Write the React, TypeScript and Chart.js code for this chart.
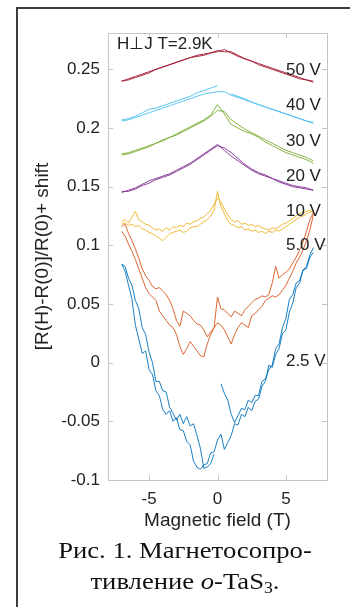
import { useEffect, useRef } from "react";
import { Chart, registerables } from "chart.js";

Chart.register(...registerables);

// Field grids (T)
const fieldFine = [-7, -6.75, -6.5, -6.25, -6, -5.75, -5.5, -5.25, -5, -4.75, -4.5, -4.25, -4, -3.75, -3.5, -3.25, -3, -2.75, -2.5, -2.25, -2, -1.75, -1.5, -1.25, -1, -0.75, -0.5, -0.25, 0, 0.25, 0.5, 0.75, 1, 1.25, 1.5, 1.75, 2, 2.25, 2.5, 2.75, 3, 3.25, 3.5, 3.75, 4, 4.25, 4.5, 4.75, 5, 5.25, 5.5, 5.75, 6, 6.25, 6.5, 6.75, 7];
const fieldCoarse = [-7, -6.5, -6, -5.5, -5, -4.5, -4, -3.5, -3, -2.5, -2, -1.5, -1, -0.5, 0, 0.5, 1, 1.5, 2, 2.5, 3, 3.5, 4, 4.5, 5, 5.5, 6, 6.5, 7];

// 2.5 V, two sweeps
const v25SweepA = [0.084, 0.078, 0.066, 0.054, 0.032, 0.020, 0.008, 0.010, -0.006, -0.010, -0.024, -0.028, -0.040, -0.044, -0.041, -0.050, -0.047, -0.057, -0.058, -0.067, -0.070, -0.084, -0.089, -0.091, -0.087, -0.086, -0.077, -0.076, -0.066, -0.061, -0.074, -0.068, -0.062, -0.052, -0.053, -0.044, -0.046, -0.038, -0.041, -0.033, -0.031, -0.020, -0.016, -0.002, -0.004, 0.007, 0.012, 0.025, 0.028, 0.043, 0.051, 0.064, 0.068, 0.079, 0.082, 0.092, 0.098];
const v25SweepB = [0.084, 0.082, 0.072, 0.066, 0.053, 0.046, 0.030, 0.024, 0.009, 0.000, -0.016, -0.016, -0.024, -0.025, -0.038, -0.043, -0.049, -0.044, -0.052, -0.046, -0.054, -0.052, -0.062, -0.073, -0.090, -0.089, -0.086, -0.078, null, -0.018, -0.026, -0.032, -0.044, -0.051, -0.045, -0.039, -0.040, -0.032, -0.034, -0.028, -0.028, -0.016, -0.014, -0.006, -0.002, 0.012, 0.016, 0.030, 0.038, 0.054, 0.058, 0.068, 0.070, 0.079, 0.080, 0.090, 0.094];

// 5.0 V
const v50SweepA = [0.112, 0.108, 0.101, 0.095, 0.088, 0.080, 0.072, 0.064, 0.059, 0.056, 0.053, 0.044, 0.040, 0.036, 0.032, 0.030, 0.024, 0.014, 0.007, 0.012, 0.018, 0.014, 0.010, 0.006, 0.005, 0.016, 0.024, 0.030, 0.034, 0.032, 0.028, 0.022, 0.016, 0.024, 0.030, 0.034, 0.032, 0.030, 0.040, 0.042, 0.045, 0.048, 0.053, 0.055, 0.057, 0.056, 0.058, 0.062, 0.066, 0.072, 0.078, 0.085, 0.090, 0.096, 0.104, 0.113, 0.126];
const v50SweepB = [0.116, 0.118, 0.110, 0.104, 0.097, 0.089, 0.080, 0.074, 0.070, 0.065, 0.063, 0.064, 0.061, 0.058, 0.053, 0.046, 0.036, 0.031, 0.044, 0.042, 0.040, 0.036, 0.033, 0.032, 0.028, 0.022, 0.026, 0.030, 0.056, 0.046, 0.045, 0.042, 0.039, 0.044, 0.042, 0.040, 0.045, 0.048, 0.051, 0.054, 0.055, 0.057, 0.056, 0.058, 0.068, 0.082, 0.072, 0.075, 0.077, 0.080, 0.085, 0.090, 0.096, 0.103, 0.112, 0.122, 0.128];

// 10 V
const v10SweepA = [0.120, 0.122, 0.119, 0.124, 0.129, 0.122, 0.120, 0.118, 0.117, 0.115, 0.113, 0.114, 0.112, 0.115, 0.113, 0.116, 0.115, 0.117, 0.116, 0.119, 0.118, 0.120, 0.121, 0.123, 0.124, 0.127, 0.130, 0.135, 0.140, 0.137, 0.131, 0.126, 0.122, 0.120, 0.121, 0.118, 0.119, 0.117, 0.118, 0.116, 0.117, 0.115, 0.114, 0.113, 0.115, 0.114, 0.116, 0.118, 0.119, 0.121, 0.123, 0.125, 0.127, 0.128, 0.129, 0.130, 0.128];
const v10SweepB = [0.118, 0.119, 0.117, 0.118, 0.116, 0.117, 0.114, 0.113, 0.111, 0.110, 0.108, 0.106, 0.104, 0.107, 0.110, 0.111, 0.112, 0.113, 0.111, 0.112, 0.115, 0.116, 0.116, 0.118, 0.120, 0.122, 0.125, 0.130, 0.146, 0.133, 0.127, 0.121, 0.118, 0.117, 0.115, 0.116, 0.113, 0.114, 0.112, 0.113, 0.111, 0.112, 0.110, 0.112, 0.111, 0.113, 0.112, 0.114, 0.116, 0.118, 0.120, 0.122, 0.124, 0.125, 0.127, 0.128, 0.130];

// 20 V
const v20SweepA = [0.145, 0.147, 0.149, 0.152, 0.155, 0.157, 0.159, 0.161, 0.164, 0.167, 0.170, 0.174, 0.178, 0.182, 0.186, 0.181, 0.176, 0.172, 0.168, 0.164, 0.161, 0.159, 0.157, 0.155, 0.153, 0.151, 0.150, 0.149, 0.147];
const v20SweepB = [0.146, 0.146, 0.148, 0.151, 0.153, 0.156, 0.158, 0.160, 0.163, 0.166, 0.169, 0.173, 0.177, 0.181, 0.185, 0.183, 0.179, 0.174, 0.169, 0.165, 0.162, 0.160, 0.157, 0.154, 0.152, 0.150, 0.149, 0.148, 0.147];

// 30 V
const v30SweepA = [0.178, 0.179, 0.181, 0.183, 0.185, 0.187, 0.189, 0.192, 0.194, 0.197, 0.200, 0.203, 0.206, 0.210, 0.215, 0.214, 0.207, 0.203, 0.199, 0.196, 0.193, 0.190, 0.187, 0.184, 0.181, 0.179, 0.177, 0.175, 0.172];
const v30SweepB = [0.177, 0.178, 0.180, 0.182, 0.184, 0.187, 0.190, 0.192, 0.195, 0.198, 0.201, 0.204, 0.207, 0.211, 0.220, 0.212, 0.203, 0.200, 0.197, 0.195, 0.192, 0.188, 0.185, 0.182, 0.179, 0.177, 0.175, 0.173, 0.170];

// 40 V
const v40SweepA = [0.206, 0.207, 0.209, 0.211, 0.213, 0.215, 0.217, 0.219, 0.221, 0.223, 0.225, 0.227, 0.229, 0.230, 0.231, 0.231, 0.228, 0.226, 0.224, 0.222, 0.220, 0.218, 0.216, 0.214, 0.212, 0.210, 0.208, 0.206, 0.204];
const v40SweepB = [0.207, 0.208, 0.210, 0.213, 0.216, 0.217, 0.219, 0.221, 0.223, 0.225, 0.227, 0.230, 0.232, 0.234, 0.236, null, 0.229, 0.227, 0.225, 0.222, 0.220, 0.218, 0.216, 0.214, 0.212, 0.210, 0.208, 0.206, 0.205];

// 50 V
const v500SweepA = [0.240, 0.242, 0.244, 0.246, 0.248, 0.250, 0.252, 0.254, 0.256, 0.258, 0.260, 0.262, 0.263, 0.264, 0.265, 0.267, 0.264, 0.261, 0.259, 0.257, 0.254, 0.252, 0.250, 0.248, 0.246, 0.244, 0.242, 0.241, 0.239];
const v500SweepB = [0.240, 0.241, 0.243, 0.245, 0.247, 0.250, 0.252, 0.254, 0.256, 0.258, 0.260, 0.261, 0.262, 0.264, 0.266, 0.265, 0.265, 0.262, 0.259, 0.257, 0.255, 0.253, 0.251, 0.249, 0.247, 0.245, 0.243, 0.241, 0.240];

// Voltage annotations (text, field position, value position)
const voltageLabels = ["50 V", "40 V", "30 V", "20 V", "10 V", "5.0 V", "2.5 V"];
const voltageLabelY = [0.2495, 0.2197, 0.1884, 0.159, 0.129, 0.0998, 0.001];
const voltageLabelX = 5.0;

const conditionLabel = "H\u22a5J T=2.9K";
const conditionX = -7.35;
const conditionY = 0.2715;

const xTicks = [-5, 0, 5];
const xTickLabels = ["-5", "0", "5"];
const yTicks = [-0.1, -0.05, 0, 0.05, 0.1, 0.15, 0.2, 0.25];
const yTickLabels = ["-0.1", "-0.05", "0", "0.05", "0.1", "0.15", "0.2", "0.25"];

const xTitle = "Magnetic field (T)";
const yTitle = "[R(H)-R(0)]/R(0)+ shift";

const COLORS = {
  v25: "#0072BD",
  v50: "#D95319",
  v10: "#EDB120",
  v20: "#7E2F8E",
  v30: "#77AC30",
  v40: "#4DBEEE",
  v500: "#A2142F",
};

const SANS = '"Liberation Sans", Arial, Helvetica, sans-serif';
const TEXT = "#222";
const AXIS = "#c6c6c6";

function pts(xs: number[], ys: (number | null)[]) {
  return xs.map((x, i) => ({ x, y: ys[i] }));
}

function series(label: string, xs: number[], ys: (number | null)[], color: string) {
  return {
    label,
    data: pts(xs, ys),
    borderColor: color,
    backgroundColor: color,
    borderWidth: 0.9,
    pointRadius: 0,
    tension: 0,
    spanGaps: false,
  };
}

const frameAndText = {
  id: "frameAndText",
  afterDatasetsDraw(chart: any) {
    const { ctx, chartArea, scales } = chart;
    const { left, right, top, bottom } = chartArea;
    const xs = scales.x;
    const ys = scales.y;
    ctx.save();

    // axes box
    ctx.strokeStyle = AXIS;
    ctx.lineWidth = 1;
    ctx.strokeRect(Math.round(left) + 0.5, Math.round(top) + 0.5, Math.round(right - left), Math.round(bottom - top));

    // inward ticks on all four sides
    const tl = 5;
    ctx.beginPath();
    xTicks.forEach((v) => {
      const px = Math.round(xs.getPixelForValue(v)) + 0.5;
      ctx.moveTo(px, bottom);
      ctx.lineTo(px, bottom - tl);
      ctx.moveTo(px, top);
      ctx.lineTo(px, top + tl);
    });
    yTicks.forEach((v) => {
      const py = Math.round(ys.getPixelForValue(v)) + 0.5;
      ctx.moveTo(left, py);
      ctx.lineTo(left + tl, py);
      ctx.moveTo(right, py);
      ctx.lineTo(right - tl, py);
    });
    ctx.stroke();

    // voltage annotations
    ctx.fillStyle = TEXT;
    ctx.font = `17px ${SANS}`;
    ctx.textAlign = "left";
    ctx.textBaseline = "middle";
    voltageLabels.forEach((t, i) => {
      ctx.fillText(t, xs.getPixelForValue(voltageLabelX), ys.getPixelForValue(voltageLabelY[i]));
    });

    // condition label
    ctx.fillText(conditionLabel, xs.getPixelForValue(conditionX), ys.getPixelForValue(conditionY));

    // axis titles
    ctx.font = `19px ${SANS}`;
    ctx.textAlign = "center";
    ctx.fillText(xTitle, (left + right) / 2, bottom + 41);
    ctx.save();
    ctx.translate(left - 65, (top + bottom) / 2);
    ctx.rotate(-Math.PI / 2);
    ctx.fillText(yTitle, 0, 0);
    ctx.restore();

    ctx.restore();
  },
};

function MagnetoChart() {
  const ref = useRef<HTMLCanvasElement | null>(null);

  useEffect(() => {
    if (!ref.current) return;
    const chart = new Chart(ref.current, {
      type: "line",
      data: {
        datasets: [
          series("2.5 V a", fieldFine, v25SweepA, COLORS.v25),
          series("2.5 V b", fieldFine, v25SweepB, COLORS.v25),
          series("5.0 V a", fieldFine, v50SweepA, COLORS.v50),
          series("5.0 V b", fieldFine, v50SweepB, COLORS.v50),
          series("10 V a", fieldFine, v10SweepA, COLORS.v10),
          series("10 V b", fieldFine, v10SweepB, COLORS.v10),
          series("20 V a", fieldCoarse, v20SweepA, COLORS.v20),
          series("20 V b", fieldCoarse, v20SweepB, COLORS.v20),
          series("30 V a", fieldCoarse, v30SweepA, COLORS.v30),
          series("30 V b", fieldCoarse, v30SweepB, COLORS.v30),
          series("40 V a", fieldCoarse, v40SweepA, COLORS.v40),
          series("40 V b", fieldCoarse, v40SweepB, COLORS.v40),
          series("50 V a", fieldCoarse, v500SweepA, COLORS.v500),
          series("50 V b", fieldCoarse, v500SweepB, COLORS.v500),
        ],
      },
      options: {
        responsive: false,
        animation: false,
        events: [],
        layout: { padding: { top: 33, right: 23, left: 0, bottom: 0 } },
        plugins: {
          legend: { display: false },
          tooltip: { enabled: false },
        },
        scales: {
          x: {
            type: "linear",
            min: -8,
            max: 8,
            grid: { display: false, drawTicks: false },
            border: { display: false },
            afterFit: (scale: any) => {
              scale.height = 60;
            },
            afterBuildTicks: (scale: any) => {
              scale.ticks = xTicks.map((v) => ({ value: v }));
            },
            ticks: {
              padding: 9,
              color: TEXT,
              font: { family: SANS, size: 17 },
              maxRotation: 0,
              callback: (v: any) => {
                const i = xTicks.indexOf(Number(v));
                return i >= 0 ? xTickLabels[i] : "";
              },
            },
          },
          y: {
            type: "linear",
            min: -0.1,
            max: 0.281,
            grid: { display: false, drawTicks: false },
            border: { display: false },
            afterFit: (scale: any) => {
              scale.width = 108;
            },
            afterBuildTicks: (scale: any) => {
              scale.ticks = yTicks.map((v) => ({ value: v }));
            },
            ticks: {
              padding: 8,
              color: TEXT,
              font: { family: SANS, size: 17 },
              callback: (v: any) => {
                const i = yTicks.findIndex((t) => Math.abs(t - Number(v)) < 1e-9);
                return i >= 0 ? yTickLabels[i] : "";
              },
            },
          },
        },
      },
      plugins: [frameAndText],
    });
    return () => chart.destroy();
  }, []);

  return <canvas ref={ref} width={350} height={540} style={{ position: "absolute", left: 0, top: 0 }} />;
}

export default function App() {
  return (
    <div
      style={{
        position: "absolute",
        left: 0,
        top: 0,
        width: 350,
        height: 607,
        overflow: "hidden",
        background: "#fff",
      }}
    >
      <div
        style={{
          position: "absolute",
          left: 16,
          top: 7,
          width: 400,
          height: 700,
          borderLeft: "2px solid #3c3c3c",
          borderTop: "2px solid #3c3c3c",
        }}
      />
      <MagnetoChart />
      <div
        style={{
          position: "absolute",
          left: 18,
          width: 334,
          top: 535,
          textAlign: "center",
          fontFamily: '"Liberation Serif", "Times New Roman", serif',
          fontSize: 24,
          lineHeight: "31px",
          color: "#111",
          transform: "scaleX(1.11)",
          transformOrigin: "167px 0",
        }}
      >
        <div>Рис. 1. Магнетосопро-</div>
        <div>
          тивление <i>o</i>-TaS<sub style={{ fontSize: 16, verticalAlign: "-4px", lineHeight: 0 }}>3</sub>.
        </div>
      </div>
    </div>
  );
}
